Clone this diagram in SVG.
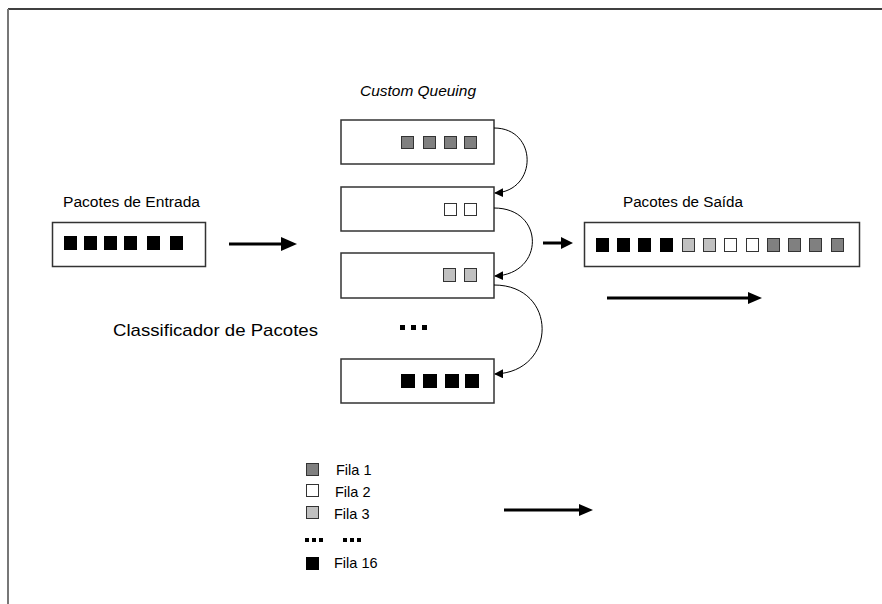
<svg xmlns="http://www.w3.org/2000/svg" width="882" height="604" viewBox="0 0 882 604">
  <style>
    .box { fill: #ffffff; stroke: #333333; stroke-width: 1.5; }
    .pk { stroke: #333333; stroke-width: 1; }
    .k { fill: #000000; }
    .dg { fill: #808080; }
    .lg { fill: #c0c0c0; }
    .wh { fill: #ffffff; }
    .lbl { font-family: "Liberation Sans", Arial, sans-serif; font-size: 14px; fill: #000000; }
    .leg { font-family: "Liberation Sans", Arial, sans-serif; font-size: 14.5px; fill: #000000; }
    .big { font-family: "Liberation Sans", Arial, sans-serif; font-size: 17px; fill: #000000; }
    .thick { stroke: #000000; stroke-width: 3; fill: none; }
    .arc { stroke: #000000; stroke-width: 1; fill: none; marker-end: url(#ah); }
  </style>
  <defs>
    <marker id="ah" viewBox="0 0 10 10" refX="9" refY="5" markerWidth="9" markerHeight="9" markerUnits="userSpaceOnUse" orient="auto">
      <path d="M0,0 L10,5 L0,10 Z" fill="#000000"/>
    </marker>
  </defs>

  <!-- page frame -->
  <path d="M8,9 H882" stroke="#000000" stroke-width="1.5" fill="none"/>
  <path d="M8,9 V604" stroke="#777777" stroke-width="2" fill="none"/>

  <!-- input packets -->
  <g id="entrada">
    <text class="lbl" x="63" y="207" textLength="137" lengthAdjust="spacingAndGlyphs">Pacotes de Entrada</text>
    <rect class="box" x="52.5" y="222.5" width="153" height="44"/>
    <rect class="k" x="64" y="236" width="13" height="14"/>
    <rect class="k" x="84" y="236" width="13" height="14"/>
    <rect class="k" x="104" y="236" width="13" height="14"/>
    <rect class="k" x="124" y="236" width="13" height="14"/>
    <rect class="k" x="147" y="236" width="13" height="14"/>
    <rect class="k" x="170" y="236" width="13" height="14"/>
  </g>

  <!-- classifier label -->
  <g id="classificador">
    <text class="big" x="113" y="336" textLength="205" lengthAdjust="spacingAndGlyphs">Classificador de Pacotes</text>
  </g>

  <!-- queues -->
  <g id="custom-queuing">
    <text class="lbl" x="360" y="96" font-style="italic" textLength="116" lengthAdjust="spacingAndGlyphs">Custom Queuing</text>
  </g>
  <g id="fila1">
    <rect class="box" x="341" y="120" width="153" height="44"/>
    <rect class="pk dg" x="401.5" y="136.5" width="12" height="12"/>
    <rect class="pk dg" x="423.5" y="136.5" width="12" height="12"/>
    <rect class="pk dg" x="444.5" y="136.5" width="12" height="12"/>
    <rect class="pk dg" x="464.5" y="136.5" width="12" height="12"/>
  </g>
  <g id="fila2">
    <rect class="box" x="341" y="187" width="153" height="44"/>
    <rect class="pk wh" x="444.5" y="203.5" width="12" height="12"/>
    <rect class="pk wh" x="464.5" y="203.5" width="12" height="12"/>
  </g>
  <g id="fila3">
    <rect class="box" x="341" y="253" width="153" height="45"/>
    <rect class="pk lg" x="443.5" y="268.5" width="12" height="13"/>
    <rect class="pk lg" x="464.5" y="268.5" width="12" height="13"/>
  </g>
  <g id="reticencias">
    <rect class="k" x="400" y="325" width="5" height="5"/>
    <rect class="k" x="411" y="325" width="5" height="5"/>
    <rect class="k" x="422" y="325" width="5" height="5"/>
  </g>
  <g id="fila16">
    <rect class="box" x="341" y="359" width="153" height="44"/>
    <rect class="k" x="401" y="374" width="14" height="14"/>
    <rect class="k" x="423" y="374" width="14" height="14"/>
    <rect class="k" x="445" y="374" width="14" height="14"/>
    <rect class="k" x="465" y="374" width="14" height="14"/>
  </g>

  <!-- output packets -->
  <g id="saida">
    <text class="lbl" x="623" y="207" textLength="120" lengthAdjust="spacingAndGlyphs">Pacotes de Saída</text>
    <rect class="box" x="584.5" y="222.5" width="275" height="44"/>
    <rect class="k" x="596" y="238" width="13" height="14"/>
    <rect class="k" x="617" y="238" width="13" height="14"/>
    <rect class="k" x="638" y="238" width="13" height="14"/>
    <rect class="k" x="660" y="238" width="13" height="14"/>
    <rect class="pk lg" x="682.5" y="238.5" width="12" height="13"/>
    <rect class="pk lg" x="703.5" y="238.5" width="12" height="13"/>
    <rect class="pk wh" x="724.5" y="238.5" width="12" height="13"/>
    <rect class="pk wh" x="746.5" y="238.5" width="12" height="13"/>
    <rect class="pk dg" x="767.5" y="238.5" width="12" height="13"/>
    <rect class="pk dg" x="788.5" y="238.5" width="12" height="13"/>
    <rect class="pk dg" x="809.5" y="238.5" width="12" height="13"/>
    <rect class="pk dg" x="831.5" y="238.5" width="12" height="13"/>
  </g>

  <!-- legend -->
  <g id="legenda">
    <rect class="pk dg" x="306.5" y="463.5" width="12" height="12"/>
    <text class="leg" x="336" y="475">Fila 1</text>
    <rect class="pk wh" x="306.5" y="484.5" width="12" height="12"/>
    <text class="leg" x="335" y="497">Fila 2</text>
    <rect class="pk lg" x="306.5" y="506.5" width="12" height="12"/>
    <text class="leg" x="334" y="519">Fila 3</text>
    <rect class="k" x="305" y="538" width="4" height="4"/>
    <rect class="k" x="312" y="538" width="4" height="4"/>
    <rect class="k" x="319" y="538" width="4" height="4"/>
    <rect class="k" x="343" y="538" width="4" height="4"/>
    <rect class="k" x="350" y="538" width="4" height="4"/>
    <rect class="k" x="357" y="538" width="4" height="4"/>
    <rect class="k" x="306" y="557" width="13" height="13"/>
    <text class="leg" x="334" y="568">Fila 16</text>
  </g>

  <!-- connectors -->
  <g id="conectores">
    <path class="thick" d="M229,244 H281"/>
    <polygon points="281,237 297,244 281,251" fill="#000000"/>
    <path class="thick" d="M543,243 H561"/>
    <polygon points="561,237 573,243 561,249" fill="#000000"/>
    <path class="thick" d="M607,298 H748"/>
    <polygon points="748,292 762,298 748,304" fill="#000000"/>
    <path class="thick" d="M504,510 H579"/>
    <polygon points="579,504 593,510 579,516" fill="#000000"/>
    <path class="arc" d="M494,128 C538,128 538,191 495,193"/>
    <path class="arc" d="M494,208 C545,208 545,274 495,276"/>
    <path class="arc" d="M494,285 C558,285 558,372 495,374"/>
  </g>
</svg>
